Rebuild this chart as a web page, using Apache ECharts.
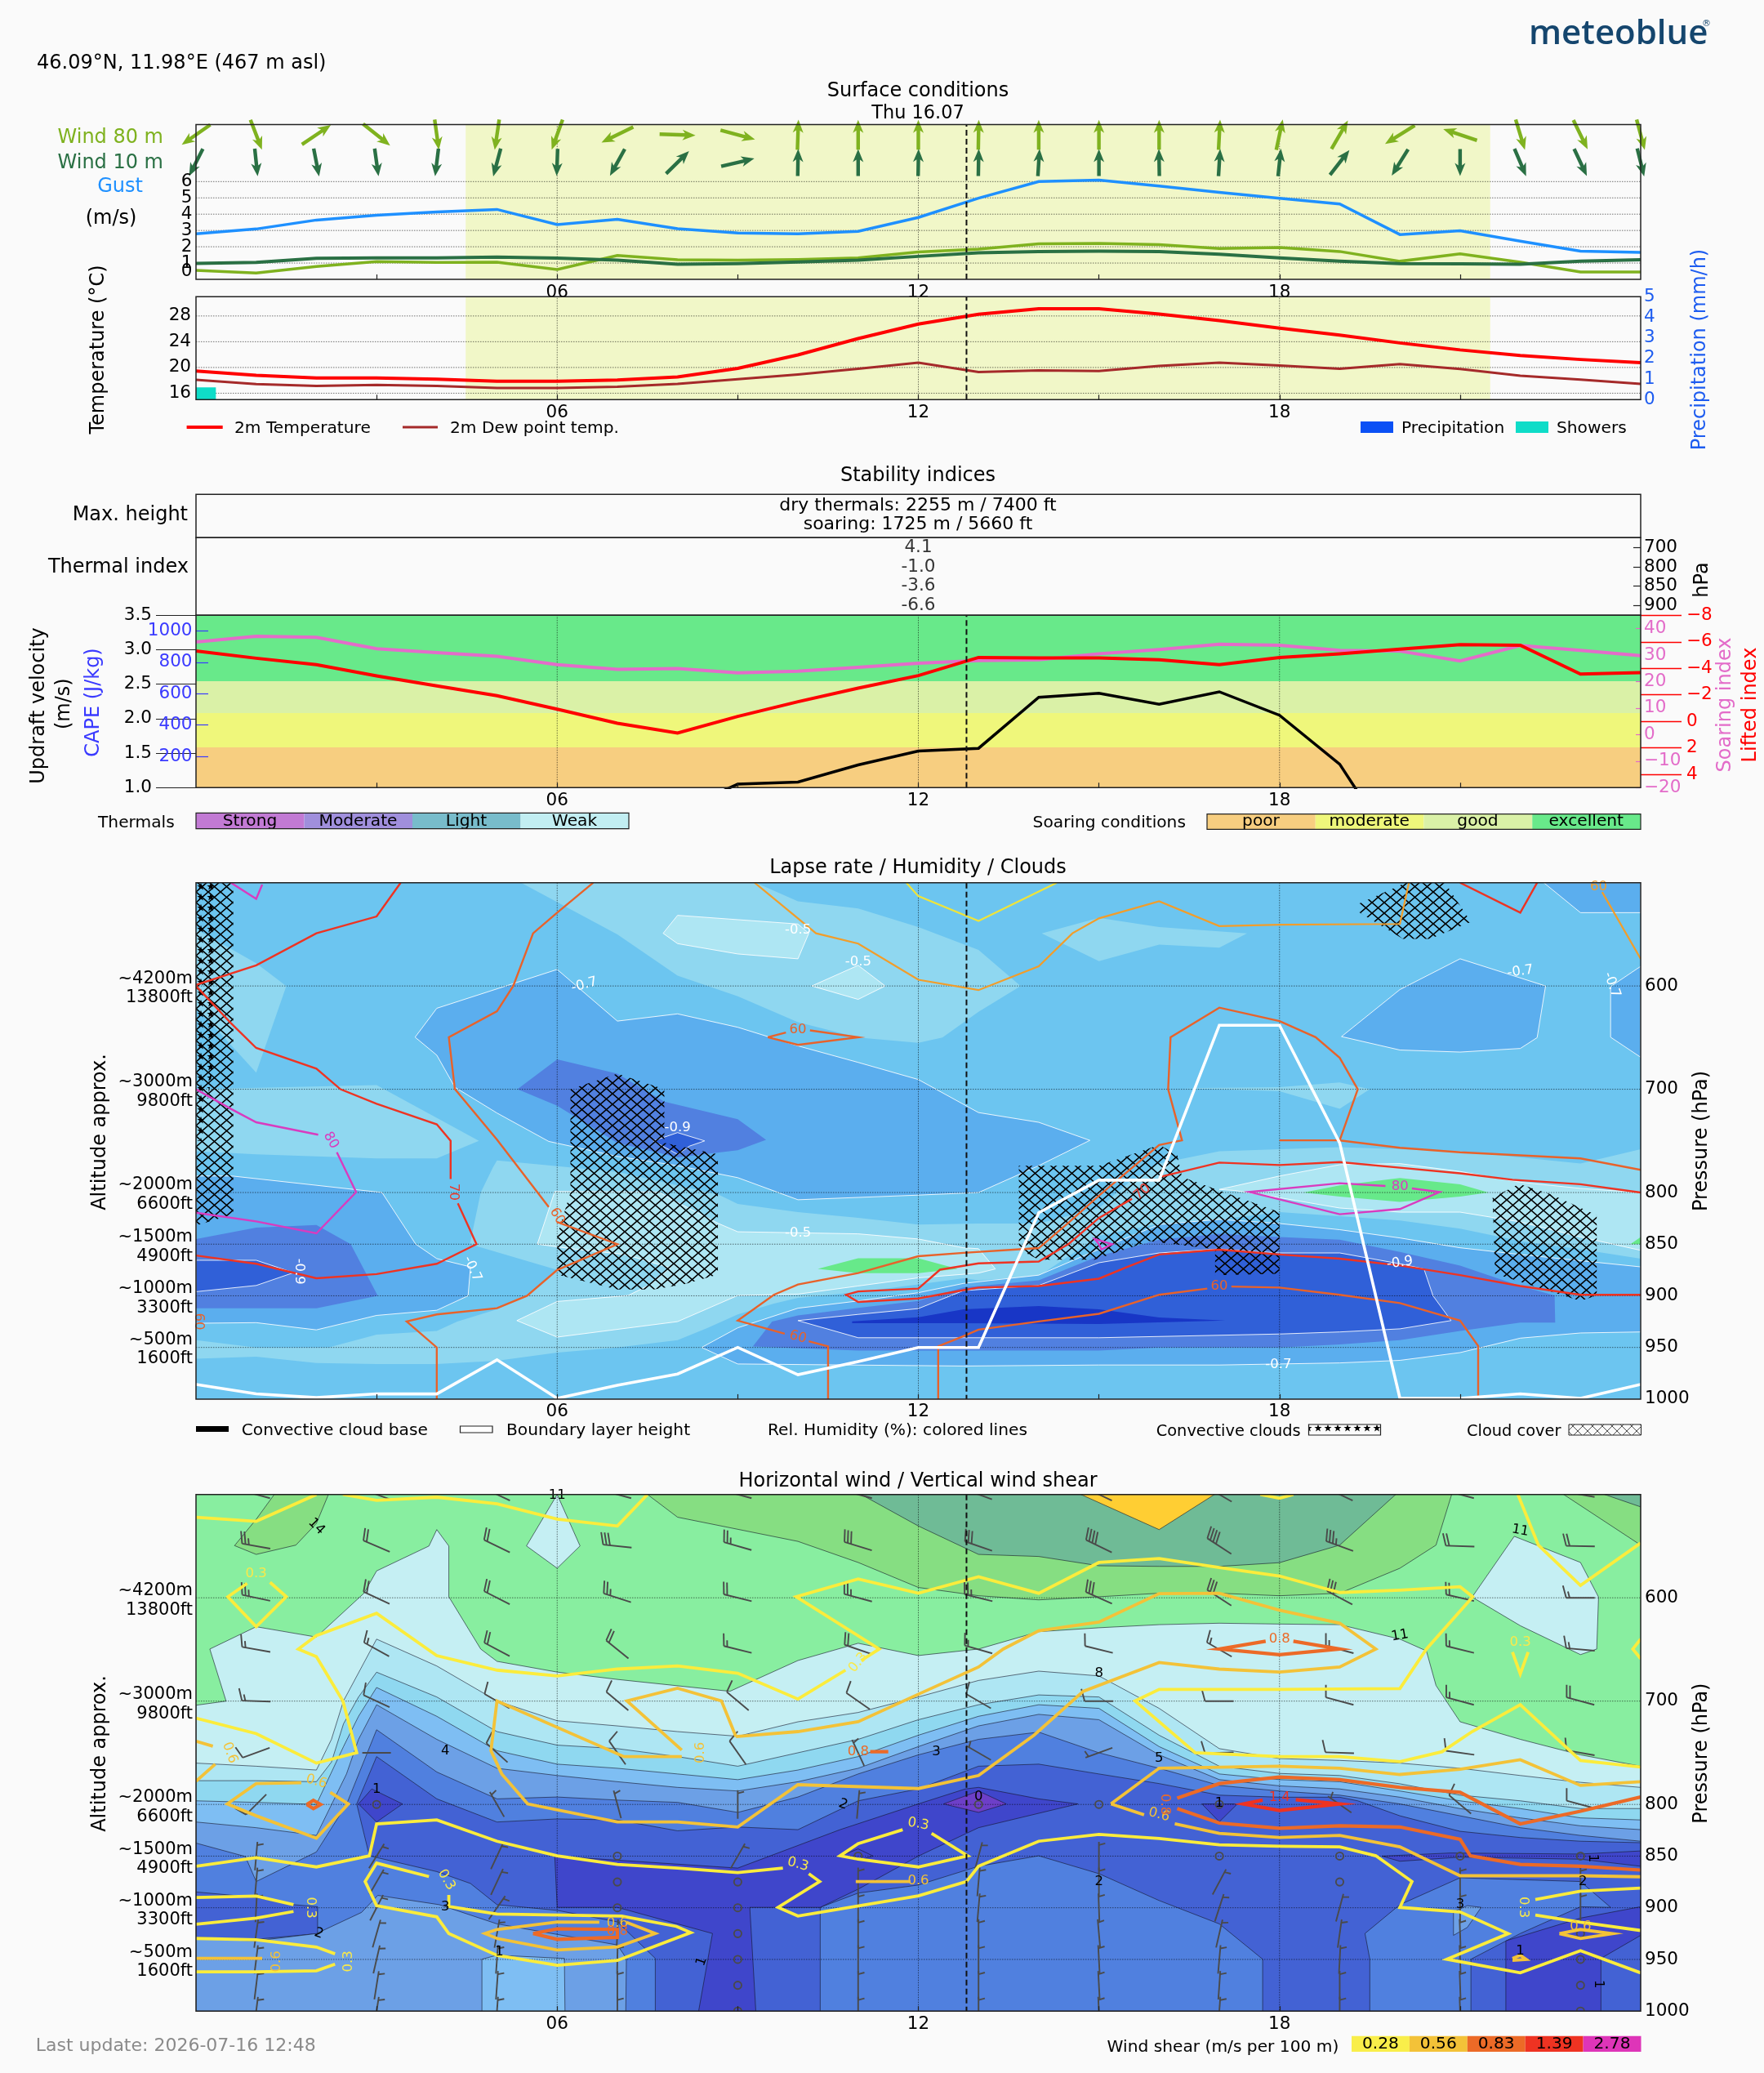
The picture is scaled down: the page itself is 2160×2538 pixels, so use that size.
<!DOCTYPE html>
<html><head><meta charset="utf-8">
<style>html,body{margin:0;padding:0;background:#fafafa}#c{width:2160px;height:2538px}</style>
<script src="https://cdn.jsdelivr.net/npm/echarts@6/dist/echarts.min.js"></script>
</head><body><div id="c"></div>
<script>
// ---------- hourly series ----------
const hours=[0,1,2,3,4,5,6,7,8,9,10,11,12,13,14,15,16,17,18,19,20,21,22,23,24];
const hourLabels=[6,12,18], hourTicks=[3,6,9,12,15,18,21], nowHour=12.8, daylight=[4.48,21.5];
const gust=[2.8,3.09,3.64,3.93,4.14,4.29,3.36,3.68,3.11,2.84,2.79,2.95,3.8,4.98,6.0,6.09,5.73,5.34,4.98,4.63,2.75,2.98,2.34,1.73,1.66];
const wind80=[.55,.39,.79,1.09,1.04,1.05,.6,1.46,1.2,1.18,1.21,1.32,1.68,1.86,2.18,2.2,2.13,1.89,1.95,1.71,1.11,1.57,1.05,.45,.45];
const wind10=[.98,1.04,1.29,1.32,1.32,1.36,1.3,1.18,.93,.96,1.07,1.18,1.41,1.63,1.71,1.73,1.71,1.54,1.32,1.11,.96,.95,.93,1.11,1.2];
const dir80=[235,159,56,128.5,172,188.5,200,244,92,105,2,0,0,1,0,0,0,3,12,30,238,288.5,163,154,165];
const dir10=[207,174,169,172,187,195,182,209,45.5,76.6,1,0,1,1,3.5,0,359,3.5,6,38,212,180,157,155,166];
const temp2m=[19.44,18.77,18.36,18.36,18.18,17.86,17.86,18.05,18.54,19.85,21.96,24.49,26.74,28.27,29.13,29.13,28.3,27.28,26.1,25.03,23.81,22.73,21.87,21.24,20.75];
const dew2m=[18.09,17.41,17.14,17.28,17.14,16.83,16.83,17.0,17.46,18.18,18.9,19.8,20.75,19.3,19.53,19.44,20.25,20.75,20.3,19.8,20.52,19.76,18.72,18.13,17.46];
const showers=[.6,0,0,0,0,0,0,0,0,0,0,0,0,0,0,0,0,0,0,0,0,0,0,0,0];
const windTicks=[1,2,3,4,5,6], windLabelsEven=[2,4,6], windLabelsOdd=[1,3,5], tempTicks=[16,20,24,28], precipTicks=[0,1,2,3,4,5];
const soaring=[34.9,37.1,36.7,32.4,30.9,29.5,26.4,24.6,24.9,23.3,23.9,25.4,26.9,27.9,28.2,30.5,32.1,34.1,33.7,31.8,31.5,27.8,33.6,31.8,29.8];
const lifted=[-5.31,-4.76,-4.27,-3.43,-2.67,-1.93,-.92,.14,.88,-.37,-1.48,-2.5,-3.45,-4.82,-4.78,-4.78,-4.64,-4.27,-4.82,-5.09,-5.44,-5.78,-5.74,-3.57,-3.67];
const updraft=[null,null,null,null,null,null,null,null,.66,1.05,1.08,1.33,1.53,1.57,2.31,2.37,2.21,2.39,2.05,1.34,0,null,null,null,null];
const updraftTicks=[1,1.5,2,2.5,3,3.5], capeTicks=[200,400,600,800,1000], liftedTicks=[-8,-6,-4,-2,0,2,4], soaringTicks=[-20,-10,0,10,20,30,40];
const soaringBands=[[1,1.585,'#F7CE80'],[1.585,2.083,'#EFF77B'],[2.083,2.545,'#DAF1A7'],[2.545,3.5,'#68E98A']];
const thermalLevels=['900','850','800','700'], thermalIndex=[-6.6,-3.6,-1.0,4.1];
const boundaryLayer=[985.8,995,998.6,995,995,962,999.3,986.6,975.7,950,976.4,963.7,950,950,819.5,788,788,638,638,752,999.3,999.3,995,999.3,985.8];
const pressureTicks=[600,700,800,850,900,950,1000];

// ---------- lapse rate regions: [hour, hPa] ----------
const lapseB=[
 [[5.4,500],[9.3,500],[10,518],[11,525],[12,543],[13,565],[13.7,600],[13,625],[12.4,650],[12,655],[11,650],[10,635],[9,610],[8,590],[7,550]],
 [[14.05,549],[15,534],[16,543],[17.46,549],[17,563],[16,560],[15,576]],
 [[0,545],[1,578],[1.5,600],[1,684],[0,620]],
 [[0,700],[3,696],[4.7,750],[4,767],[3,767],[1,763],[0,760]],
 [[16.4,699],[18,698],[19,693.5],[19.5,700],[19,719],[18,702]],
 [[5,769],[7,780],[8.68,802],[9,811],[10,819],[11,824.5],[12,831],[13,830],[14,830],[15,815],[15.5,790],[16,772],[17,760],[19,756],[21,760],[23,772],[24,758],[24,864],[23,855],[22,847],[21,835],[20,827],[19,823],[18,819],[17,826],[16,830],[15,842],[14,881],[13,885],[12.75,883],[12,889],[11,896.5],[10,902],[9.6,907.6],[9,918],[8.5,931],[8,943],[7,950],[6,955],[5,963],[4,966],[3,966],[2,965],[1,959],[0,961],[0,943],[1,950],[2.2,950],[3,937.6],[4,934],[4.34,925],[5,913],[5.5,900],[6,875],[4.55,850],[4.73,800],[4.93,776]]
];
const lapseA=[
 [[5.96,799],[7.69,799.5],[7.88,806],[8.68,830],[9,838],[11,840],[12,845],[12.75,853.5],[13,854.4],[13.28,874],[13,878],[12,882.6],[11,890.5],[10,898.4],[9,899.7],[8,925],[6,940],[5.33,924],[6,905.5],[7.18,899.7],[7.55,889],[7.88,873],[7.13,860],[6.32,855],[5.67,850]],
 [[17,797],[18,784],[19,773],[20,772],[21,779.6],[22,790],[23,796],[24,800],[24,856],[23,843],[22,828.5],[21,819],[20,819],[19,815],[18,805],[17.25,798]],
 [[8,531.6],[7.76,549],[8,559],[9,569],[10,573.7],[10.18,549],[10,540]],
 [[11,580],[11.45,600],[11,613],[10.23,600]]
];
const lapseGreen=[
 [[10.33,874],[11,863.6],[12,863.6],[12.65,874],[12,878],[11,878]],
 [[18.4,800],[19,793],[20,786],[21,792],[21.47,800],[21,804],[20,809],[19,804]],
 [[23.83,850],[24,843],[24,850]]
];
const lapseD=[
 [[4,621.6],[3.64,649.6],[4,667],[4.3,698],[5,723],[5.86,750.5],[7,765],[8,774],[9,785.6],[10,807],[12,802.5],[13,800],[14,774],[14.85,749.5],[14,732],[13,722.6],[12,690.6],[11,674],[10,658],[9,640],[8,627],[7,634],[6,584]],
 [[0,784],[.6,784],[3.09,800],[3.65,850],[4,864],[4.56,872],[4.52,900],[4,914],[3,919],[2,933],[1,926],[0,926.6]],
 [[8.4,950],[9,931],[10,912],[11,905],[12,897],[12.75,888],[14,880],[15,855],[16,831],[17,826],[18,830],[19,836],[20,844],[21,853.5],[22,860],[24,872],[24,935],[23,936],[22,941],[21,955],[20,962.5],[19,965],[18,966],[17,967],[15,967],[12.75,968],[9,966]],
 [[19.03,649],[20,603.5],[21,573.7],[22.42,600],[22.28,650],[22,660.5],[21,664],[20,662]],
 [[22.39,500],[23,529],[24,529],[24,500]],
 [[24,581],[23.5,600.6],[23.5,649.6],[24,669]]
];
const lapseE=[
 [[5.34,700],[6,671],[7,685],[7.78,712],[9,729],[9.47,749],[9,759],[8,766],[7,752],[6,716]],
 [[0,845],[1,834],[2,831.5],[2.57,850],[3.02,900],[2,912],[1,912],[0,912]],
 [[9.25,949],[9.57,925],[10,919],[11,911.6],[12,905],[12.75,892],[14,885],[15,861.5],[16,845.6],[17,840],[18,843],[19,845.6],[20,857.5],[21,870.7],[22,890.5],[22.57,899.7],[22.58,926],[22,926],[21,934],[20,943],[19,947],[18,950],[16,950],[15,953],[12.75,953],[11,953]]
];
const lapseF=[
 [[7.6,750],[8,742],[8.45,750],[8.2,755],[8,763]],
 [[0,865.6],[1,865.6],[1.62,877.6],[1,890],[0,896]],
 [[10,924],[11,918],[12,912.4],[12.75,895],[14,890],[15,868],[16,858.5],[17,854.6],[18,858.5],[19,858.5],[20,869],[20.4,874],[20.55,900],[20.85,924],[20,932],[19,935],[18,937],[15,940.6],[11,940.6]]
];
const lapseG=[[[10.9,924.8],[12,920.8],[12.75,913],[14,910],[15,913],[16,921],[17.1,924],[15,927.4],[12.75,926.6],[10.9,926.6]]];

// ---------- relative humidity contours ----------
const rh50=[[[11.8,500],[12,513],[13,537],[14.3,500]]];
const rh55=[
 [[9.28,500],[10,534.5],[10.3,549],[11,559],[12,594],[13,604],[14,581],[14.56,549],[15,534.5],[16,518],[17,542],[18,540.7],[20,540],[20.15,500]],
 [[23.36,509],[24,573.7]]
];
const rh60=[
 [[6.6,500],[6,529],[5.6,549],[5.27,600],[5,624.5],[4.2,649.6],[4.3,699.7],[5,748.7],[5.86,814]],
 [[6,828.6],[7,850],[6,875],[5.5,900],[5,912],[4,918],[3.5,924.8],[4,950],[4,1000]],
 [[9.5,649.6],[9.8,645]],
 [[10.2,643],[11,649.6],[10,657],[9.5,649.6]],
 [[10.5,1000],[10.5,949],[10.18,944]],
 [[9.78,936.7],[9,924],[9.6,899],[10,889],[11,878],[12,861.7],[12.75,858.4],[14,853.8],[14.5,829],[15,803],[16,754],[16.38,749.5],[16.15,700],[16.19,649.6],[17,621],[18,634],[18.6,649.6],[19,669.6],[19.3,700],[19,749.5],[20,756.7],[21,761],[23,767],[24,778]],
 [[18,749.5],[19,749.5]],
 [[12.33,1000],[12.33,949],[12.75,939],[13,932.7],[14,924.8],[15,917.4],[16,899],[16.8,893]],
 [[17.2,891],[18,892],[19,899],[20,907],[21,924],[21.3,948.5],[21.3,1000]]
];
const rh70=[
 [[3.4,500],[3,532.7],[2,549],[1,580],[0,599]],
 [[0,600],[.58,636],[1,660],[2,680],[2.4,700],[3,714],[4,734],[4.23,750],[4.23,787]],
 [[4.35,810.5],[4.66,850],[4,869],[3,879],[2,883],[1,869],[0,861]],
 [[15.55,806],[15,824.6],[14.5,849.6],[14,866.8],[13,868.6],[12.75,871],[12.36,874.7],[12,893],[11,895.8],[10.8,899],[11,906],[12,902.6],[12.75,894.5],[13,892],[14,890.5],[15,883.4],[15.47,872],[16,860],[17,855.4],[18,860],[19,864],[20,870.7],[21,880],[22,890.5],[23,899],[24,899]],
 [[16,785],[17,771],[18,773.4],[19,770.5],[20,776],[21,781.4],[21.87,787.6],[23,792],[24,800]],
 [[21,500],[22,529],[22.28,500]]
];
const rh80=[
 [[.58,500],[1,515.6],[1.1,501.8]],
 [[0,700],[.58,719],[1,732],[2.03,744]],
 [[2.34,761],[2.66,799.6],[2,839.5],[1,828],[0,819.5]],
 [[19.76,793.7],[19,791],[17.5,799.5],[19,821],[20,816],[20.66,799.5],[20.2,796]],
 [[15,850],[14.93,845],[15.22,850],[15.04,855],[15,850]]
];
const cloudCover=[
 [[0,500],[.62,500],[.62,821],[0,832]],
 [[7,685],[7.78,700],[7.78,752],[8.67,763],[8.67,879.5],[8.1,889],[7.6,894],[7,894],[6,879.5],[6,842],[6.22,800],[6.22,700]],
 [[19.33,520],[20.1,500],[20.75,500],[21.18,538],[20.5,554.5],[20.05,554.5],[19.33,529]],
 [[13.67,774],[15,774],[16,754],[16.3,763],[16.38,785],[17,798],[18,819],[18,878.6],[16.93,880],[16.93,855],[15.84,847],[14.93,865],[14,865],[13.67,855]],
 [[21.54,805],[21.98,791.6],[22.52,802],[23.27,822],[23.27,899.7],[23,905],[21.58,878.6]]
];
const convectiveClouds=[[[0,500],[.35,500],[.35,650],[.1,750],[0,750]]];
const lapseLabels=[[10,546,'-0.5',0],[11,577,'-0.5',0],[10,839.5,'-0.5',0],[6.45,599,'-0.7',15],[8,737,'-0.9',0],[1.72,876.5,'-0.9',-90],[4.59,874,'-0.7',-65],[22,586,'-0.7',8],[23.52,599,'-0.7',-70],[17.98,966.6,'-0.7',0],[20,868,'-0.9',8]];
const rhLabels=[[6,823,'60',-60,'#E8622A'],[10,642,'60',0,'#E8622A'],[10,940,'60',-15,'#E8622A'],[17,891,'60',0,'#E8622A'],[.05,925,'60',-90,'#E8622A'],[4.28,799.6,'70',-90,'#E9382A'],[15.72,799.5,'70',40,'#E9382A'],[2.24,749.5,'80',-60,'#D93BBF'],[20,794,'80',0,'#D93BBF'],[23.3,504,'60',0,'#F29D2A']];

// ---------- horizontal wind regions ----------
const speedAbove14=[
 [[1.3,500],[2.2,500],[2,528],[1.66,549],[1,558],[.64,549.5],[1,524]],
 [[7.5,500],[8,522],[10,545.4],[11,565.8],[12,590],[13,598],[14,602],[15,599],[16,595.6],[17,595.6],[18,598],[19,595.6],[20,571.4],[20.6,549],[20.86,500]],
 [[22.72,500],[24,549],[24,500]]
];
const speedAbove17=[
 [[11.05,500],[12,530.5],[13,558],[14,560],[15,569],[16,569.6],[17,569.6],[18,566],[19,549],[19.93,500]],
 [[23.4,500],[24,512],[24,500]]
];
const speedAbove20=[[[14.7,500],[16,534],[16.92,500]]];
const speedBelow11=[
 [[6,500],[6.38,549.8],[6,571.4],[5.49,549.8]],
 [[21.9,540.5],[23,565.8],[23.3,599.3],[23.27,649.6],[23,655],[22,627],[21.2,599.3]],
 [[0,704],[.5,700],[.23,649.6],[1,628],[2,638],[2.79,595.6],[3,574],[3.87,549.9],[4,534],[4.2,549.9],[4.2,599],[4.73,649.6],[5,661.5],[6,671.9],[7,679],[8.87,690.5],[10,660.7],[11,644],[12,655.9],[13,649.6],[14,632.8],[15,629],[16,626],[17,624.6],[18,625.4],[19,626],[20,640],[20.44,651.4],[20.6,684.9],[21,720],[22,737],[23,752],[24,763],[24,1000],[0,1000]]
];
const contour8=[[0,760],[1,763],[2,766.7],[2.25,737],[2.45,699.8],[3,640],[4,666],[5,699.8],[6,719],[7,724],[8,729.5],[9,734],[10,720],[11,711],[12,696],[13,680],[14,671],[15,675.6],[16,707],[17,746],[18,755.6],[19,757.4],[20,760],[21,765],[22,772],[23,778.6],[24,783.5]];
const contour6=[[0,777],[1,777],[2,778],[2.25,759],[2.45,722],[2.7,696],[3,672],[4,696],[5,729.5],[6,742.6],[7,746],[8,753.7],[9,763],[10,750],[11,737],[12,718],[13,703.5],[14,694],[15,696],[16,733],[17,763],[18,770],[19,772],[20,780],[21,791],[22,796.5],[23,804],[24,804]];
const contour5=[[0,796.5],[1,798],[2,800],[2.45,744],[2.7,714.7],[3,686.8],[4,714.7],[5,748],[6,761],[7,765],[8,770.5],[9,776],[10,766.7],[11,753.7],[12,733],[13,714.7],[14,703.5],[15,707],[16,744],[17,770.5],[18,776],[19,778],[20,787],[21,796.5],[22,804],[23,813],[24,815]];
const contour4=[[0,817],[1,822.5],[2,830],[2.5,770.5],[2.7,737],[3,703.5],[4,737],[5,765],[6,772],[7,778],[8,783.5],[9,787],[10,778],[11,765],[12,744],[13,724],[14,712.8],[15,718],[16,752],[17,776],[18,782],[19,785],[20,793],[21,804],[22,813],[23,820.7],[24,824.4]];
const contour3=[[0,837.4],[.82,850.4],[1,874.6],[2,846],[2.5,800],[3,727.7],[4,768.6],[5,794.6],[6,792.8],[7,795.8],[8,798],[9,807.7],[10,792.8],[11,770.5],[12,752],[13,737],[14,730],[15,750],[16,765],[17,781.6],[18,787],[19,791],[20,799.5],[21,811],[22,822.5],[23,830],[24,835.6]];
const speedBelow2=[
 [[2.67,799.5],[3,753.7],[4,794.6],[5,817],[6,814],[7,815],[8,825.5],[9,821.8],[10,824.4],[11,796.5],[12,785],[13,763],[14,761],[15,770.5],[16,779.8],[17,791],[18,793],[19,793],[19.3,796.5],[20,811],[21,826],[22,832],[23,835.6],[24,837],[24,1000],[7.63,1000],[7.63,949],[7,913.7],[6,902.5],[5,897],[4.56,876.5],[4,865],[2.88,849.7]],
 [[0,884.7],[1,890],[1.62,897],[2.02,899],[2.02,925],[1,930.5],[0,928.6]]
];
const speedBelow3Patches=[
 [[10.37,1000],[10.37,899.6],[11,885.8],[12,878],[13,859.8],[14,849.7],[15,867],[16,893],[17,915.6],[17.72,949.8],[17.72,1000]],
 [[19.5,1000],[19.5,949.8],[19.42,924.9],[20,897],[21,871],[23,874.6],[23.5,899.6],[23,899],[22,924.9],[21.18,949.8],[21.18,1000]]
];
const speedBelow4Patches=[
 [[0,930],[1,932],[2,925],[2.75,904.5],[3.02,888],[4.04,897],[5,915.6],[7,936],[7.15,949],[7.14,1000],[0,1000]],
 [[20.89,904],[21.12,898],[21.35,899.6],[21.12,919],[20.89,926.7]]
];
const speedBelow5Patches=[[[4.75,1000],[4.75,949.8],[5,945.9],[6.12,949],[6.13,1000]]];
const speedBelow1=[
 [[5.96,850],[9,861.6],[10.7,824.4],[12,799.5],[12.78,785],[13,783.5],[14,794.6],[14.65,799.5],[13,822.5],[12,850],[11,882],[10.37,899.6],[9.2,899.6],[9.3,1000],[8.35,1000],[8.58,924.9],[7,899.6],[6,899.6]],
 [[2.92,785],[3.43,799.5],[3,817],[2.7,799.5]],
 [[21.76,1000],[21.76,932],[23,910],[24,899],[24,926.7],[23.34,949],[23.34,1000]],
 [[19.7,850],[20.84,847],[23,848],[24,845],[24,859.8],[23,853],[21,851],[20,855]],
 [[16.71,799.5],[17.3,799.5],[17,816.8]],
 [[10.7,850],[11,843],[11.25,850],[11,854]]
];
const speedBelow0=[[[12.42,799.5],[13,787],[13.46,799.5],[13,807.7]]];
const windSpeedLabels=[[2,531,'14',-45],[6,501,'11',0],[4.14,748,'4',0],[12.3,749,'3',0],[10.75,800,'2',-20],[3,785,'1',0],[13,792.8,'0',0],[4.14,899,'3',0],[2.04,925,'2',-20],[8.4,952,'1',70],[5.04,943,'1',0],[22,535,'11',-10],[20,636.6,'11',10],[15,673,'8',0],[16,755,'5',0],[17,799,'1',0],[15,874.6,'2',0],[21,897,'3',0],[23.04,874.6,'2',0],[22,941.6,'1',0],[23.3,974,'1',-90],[23.2,852,'1',-90]];

// ---------- wind shear contours ----------
const shear028=[
 [[0,522],[1,526],[2,500]],
 [[2.44,500],[3,505.6],[4,502.6],[5,509],[6,523.8],[7,530.5],[7.5,500]],
 [[1.23,585],[1.5,599],[1,628],[.53,599],[.85,586]],
 [[0,716.5],[1,731.4],[2,760],[2.67,750],[2.44,699.8],[2,657],[1.7,649.6],[2,636.5],[3,615],[4,656],[5,670],[6,675.6],[7,669],[8,666],[9,673],[10,698],[10.79,670]],
 [[11.05,660.7],[11.35,649.6],[9.97,599],[11,581.8],[12,595.6],[13,579.6],[14,595.6],[15,565.8],[16,562],[17,570.7],[18,578.9],[19,594.9],[20,592.6],[21,589.3],[21.21,599],[20.44,649.6],[20,687.9],[18,688.6],[16,688.6],[15.6,699.8],[16.6,750],[18,753.7],[19,753.7],[20,758.6],[20.7,749],[21.2,729.5],[22,703.5],[23,757.4],[24,763.8]],
 [[21.96,500],[22.3,549],[23,588],[24,547]],
 [[24,640],[23.87,649.6],[24,659]],
 [[21.87,652.5],[22,673.7],[22.13,652.5]],
 [[17.68,500],[18,503.7],[18.23,500]],
 [[0,859.8],[1,851.6],[2,860.5],[2.88,849.7],[3,818.8],[4,815],[5,835.6],[6,849.7],[7,858],[8,861.6],[9,866],[9.75,861.6]],
 [[10.18,867],[10.36,874.6],[9.67,899.6],[10,908],[12,888.4],[12.8,874.6],[13,859.8],[14,835.6],[15,829],[16,833],[17,839],[18,840.4],[19,841],[19.6,849.7],[20.2,874.6],[20,899.6],[21,904],[21.8,925],[20.78,949.8],[22,963],[23,941.6],[24,963]],
 [[11.74,824.4],[11,838],[10.7,849.7],[11,853],[12,860.5],[12.82,849.7],[12.22,828]],
 [[0,890],[1,888.7],[1.62,897]],
 [[1.62,903.6],[1,910],[0,916]],
 [[0,929.7],[1,931],[2,938],[2.31,944.6]],
 [[2.31,954.6],[2,961],[1,962],[0,962]],
 [[3.87,869.8],[3,856.8],[2.81,874.6],[3,898],[4,908.8],[4.2,925],[5,946],[6,955.7],[7,951],[8.22,924],[7.98,918],[7.07,908],[5,906],[4.2,898.8],[4.2,887.6]],
 [[22.25,892],[23,884],[24,881]],
 [[22.25,907],[23,914],[24,922]]
];
const shear056=[
 [[0,738.8],[.28,743.6]],
 [[.32,761],[0,777.6]],
 [[1.75,779],[1,779.8],[.52,799.5],[1,811],[2,832.6],[2.53,799.5],[2.23,788.3]],
 [[8.97,734.4],[10,729.5],[11,720],[11.9,696],[13,667],[13.41,649.6],[14,632],[15,623.5],[16,596],[17,595.6],[18,612],[19,624.6],[19.6,649.6],[19,667],[18,671.9],[17,669],[16,662.6],[14.74,690.5],[13.92,733],[13,772],[12,784.6],[10,780.9],[9,821.8],[8,817],[7,817],[5.51,799.5],[5.08,770.5],[4.9,748],[5,699.8],[7.11,753.7],[8.07,753.7]],
 [[8.07,747.4],[7.16,699.8],[8,687.5],[8.73,699.8],[8.97,734.4]],
 [[15.2,799.5],[16,764.9],[18,763],[19,764.9],[20,771],[21,766],[22,756.7],[23,781.6],[24,778]],
 [[15.2,799.5],[15.75,810]],
 [[16.26,818.8],[17,828],[18,832],[19,830],[20,841],[21,869],[22,869],[23,869],[24,870]],
 [[10.96,874.6],[11.87,874.6]],
 [[0,949],[1.1,949]],
 [[6.7,914],[6,913.7],[5,921],[4.8,924.9],[5,929.7],[6,940.8],[7,937.9],[7.63,924.9],[7.15,914]],
 [[22.65,925],[23,929.7],[23.53,925],[23,921],[22.65,925]],
 [[21.87,949],[22,946],[22.1,950],[21.87,951]]
];
const shear083=[
 [[5.6,924.9],[6,920.4],[7,921],[7,928.6],[6,930.5],[5.6,924.9]],
 [[11.2,749],[11.5,749]],
 [[17.77,642],[17,649.6],[18,655],[19,649.6],[18.23,642]],
 [[16.3,793.9],[17,779.8],[18,773.4],[19,776],[20,783.5],[21,788.3],[22,818.8],[23,806.6],[24,792.8]],
 [[16.3,804],[17,818],[18,823],[19,820.7],[20,821.8],[21,833.7],[21.17,849.7],[22,858],[23,859.8],[24,863.5]],
 [[1.84,800],[1.95,796],[2.07,800],[1.95,804],[1.84,800]]
];
const shear139=[[[17.72,795.8],[17.4,799.5],[18,805.8],[19,799.5],[18.27,795.4]]];
const shearLabels=[[1,577,'0.3',0,'#F9E94A'],[11,662.6,'0.3',50,'#F9E94A'],[10,858,'0.3',-15,'#F9E94A'],[4.16,873,'0.3',-60,'#F9E94A'],[1.9,900,'0.3',-90,'#F9E94A'],[2.53,952,'0.3',90,'#F9E94A'],[12,819,'0.3',-10,'#F9E94A'],[22,643,'0.3',0,'#F9E94A'],[22.05,899.6,'0.3',-90,'#F9E94A'],
 [.56,750,'0.6',-70,'#F3C238'],[2,778,'0.6',-15,'#F3C238'],[8.38,750,'0.6',90,'#F3C238'],[12,874,'0.6',0,'#F3C238'],[1.34,952,'0.6',90,'#F3C238'],[7,915,'0.6',0,'#F3C238'],[16,810,'0.6',-15,'#F3C238'],[23,918.5,'0.6',0,'#F3C238'],
 [11,749,'0.8',0,'#EC6A27'],[18,640,'0.8',0,'#EC6A27'],[16.09,800,'0.8',-90,'#EC6A27'],[7,923,'0.8',0,'#EC6A27'],[18,793,'1.4',0,'#EE3322']];

// ---------- wind barbs: direction (deg) and number of full barbs (0 = calm) ----------
const barbHours=[1,3,5,7,9,11,13,15,17,19,21,23];
const barbLevels=[500,550,600,650,700,750,800,850,875,900,925,950,975,1000];
const barbDirection=[
 [285,290,295,285,285,285,290,295,300,295,285,280],
 [280,293,296,276,286,287,289,296,303,290,272,271],
 [282,295,297,288,284,285,284,294,303,298,283,270],
 [280,299,298,309,284,289,286,284,300,285,284,275],
 [272,295,300,310,310,305,300,270,270,285,285,285],
 [250,270,312,325,325,335,300,250,268,272,278,280],
 [225,0,330,345,0,5,0,0,0,305,310,285],
 [5,32,25,0,30,0,15,0,0,0,0,0],
 [5,30,25,0,0,0,5,0,28,0,0,0],
 [3,27,35,0,0,0,5,358,18,15,0,0],
 [8,16,10,3,0,0,0,355,13,8,358,0],
 [7,13,4,1,0,0,0,357,5,3,358,0],
 [7,9,4,0,0,0,0,357,4,0,358,0],
 [7,9,4,0,0,0,0,357,4,0,358,0]
];
const barbSpeed=[
 [3,3,3,3,3,3,4,4,4,4,3,3],
 [2.5,2,2,3,2.5,3,3,4,4,3.5,2,2],
 [2.5,2,2,2.5,2,2.5,2.5,3,3,3,2,1.5],
 [1.5,1.5,2,2,1.5,2,1.5,1,1.5,1.5,1.5,1.5],
 [1.5,1,1,1,1,1,1,1,1,1,1.5,2],
 [1,.1,1,1,1,.5,.5,.5,1,1,1,1],
 [1,0,.5,.5,.5,.5,0,0,0,.5,1,1],
 [.5,.5,.5,0,.5,0,.5,.5,0,0,0,0],
 [.5,.5,.5,0,0,.5,.5,.5,.5,0,.5,.5],
 [.5,.5,.5,0,0,.5,.5,.5,.5,.5,.5,.5],
 [.5,.5,.5,.5,0,.5,.5,.5,.5,.5,.5,0],
 [.5,.5,.5,.5,0,.5,.5,.5,.5,.5,.5,0],
 [.5,.5,.5,.5,0,.5,.5,.5,.5,.5,.5,0],
 [.5,.5,.5,.5,0,.5,.5,.5,.5,.5,.5,0]
];

// ---------- layout ----------
const FONT='"DejaVu Sans"';
const TICK=21.5, BIG=24, SMALL=20.2, CONTOUR=16.5;
const L=240,W=1769,R=2009;
const panels=[[152.5,342],[363.2,489.3],[658.3,753.3],[753.3,964.3],[1080.7,1712.9],[1829.7,2462.2]];
const C={wind80:'#7FB21F',wind10:'#2A7044',gust:'#1E90FF',precip:'#1D5CF0',cape:'#3A3AFF',soar:'#E36CC9',red:'#FF0000',dew:'#A52A2A',teal:'#0FDCC8'};

function crossHatch(){const c=document.createElement('canvas');c.width=15;c.height=13;const g=c.getContext('2d');g.strokeStyle='#000';g.lineWidth=1.6;g.beginPath();g.moveTo(0,0);g.lineTo(15,13);g.moveTo(15,0);g.lineTo(0,13);g.stroke();return {image:c,repeat:'repeat'};}
function legendHatch(){const c=document.createElement('canvas');c.width=12;c.height=12;const g=c.getContext('2d');g.strokeStyle='#222';g.lineWidth=.8;g.beginPath();g.moveTo(0,0);g.lineTo(12,12);g.moveTo(12,0);g.lineTo(0,12);g.stroke();return {image:c,repeat:'repeat'};}
function starPat(){const c=document.createElement('canvas');c.width=12;c.height=13;const g=c.getContext('2d');g.fillStyle='#000';g.beginPath();for(let i=0;i<10;i++){const r=i%2?2:4.8,a=-Math.PI/2+i*Math.PI/5;g.lineTo(6+r*Math.cos(a),6.5+r*Math.sin(a));}g.closePath();g.fill();return {image:c,repeat:'repeat'};}
const hatch=crossHatch(),legHatch=legendHatch(),stars=starPat();

const series=[];
const ax=(g,y)=>({xAxisIndex:g,yAxisIndex:y,coordinateSystem:'cartesian2d'});
function polys(name,g,y,list,fill,stroke,lw,z){
 series.push({name,type:'custom',...ax(g,y),clip:true,silent:true,z,data:list.map((_,i)=>[i]),
  renderItem(p,api){return {type:'polygon',shape:{points:list[p.dataIndex].map(q=>api.coord(q))},style:{fill,stroke:stroke||null,lineWidth:lw||0}};}});
}
function lines(name,g,y,list,stroke,lw,z,dash){
 series.push({name,type:'custom',...ax(g,y),clip:true,silent:true,z,data:list.map((_,i)=>[i]),
  renderItem(p,api){return {type:'polyline',shape:{points:list[p.dataIndex].map(q=>api.coord(q))},style:{fill:null,stroke,lineWidth:lw,lineDash:dash||null,lineJoin:'miter'}};}});
}
function texts(name,g,y,list,defColor,size,z){
 series.push({name,type:'custom',...ax(g,y),clip:false,silent:true,z,data:list.map((_,i)=>[i]),
  renderItem(p,api){const q=list[p.dataIndex],c=api.coord([q[0],q[1]]);
   return {type:'text',x:c[0],y:c[1],rotation:(q[3]||0)*Math.PI/180,style:{text:q[2],fill:q[4]||defColor,font:size+'px '+FONT,align:'center',verticalAlign:'middle'}};}});
}
function lineS(name,g,y,vals,color,w,z){
 series.push({name,type:'line',xAxisIndex:g,yAxisIndex:y,data:hours.map((h,i)=>[h,vals[i]]),showSymbol:false,connectNulls:false,clip:true,silent:true,z,lineStyle:{color,width:w,join:'miter'},itemStyle:{color}});
}
function guides(g,y,xs,ysv,top,bot,z){
 const segs=[...xs.map(v=>[[v,top],[v,bot]]),...ysv.map(v=>[[0,v],[24,v]])];
 lines('guides'+g,g,y,segs,'rgba(0,0,0,.55)',1,z,[1.5,1.5]);
}
function nowLine(g,y,top,bot,z){lines('now'+g,g,y,[[[nowHour,top],[nowHour,bot]]],'#111',2,z,[7,4]);}
function arrows(name,dirs,yv,color,base,extra){
 series.push({name,type:'custom',...ax(0,0),clip:false,silent:true,z:6,data:dirs.map((_,i)=>[i]),
  renderItem(p,api){
   const i=p.dataIndex,t=dirs[i]*Math.PI/180,c=api.coord([hours[i],yv]),ln=base+extra*Math.abs(Math.sin(t)),ux=Math.sin(t),uy=-Math.cos(t),nx=-uy,ny=ux;
   const P=(a,b)=>[c[0]+ux*a+nx*b,c[1]+uy*a+ny*b],e=ln/2;
   return {type:'polygon',shape:{points:[P(-e,-2.2),P(e-13,-2.2),P(e-16,-6.5),P(e,0),P(e-16,6.5),P(e-13,2.2),P(-e,2.2)]},style:{fill:color}};
  }});
}

// ---------- panel 0: wind ----------
polys('daylight0',0,0,[[[daylight[0],0],[daylight[1],0],[daylight[1],9.5],[daylight[0],9.5]]],'#F1F7C8',null,0,1);
guides(0,0,hourLabels,windTicks,0,9.5,2);
lineS('Gust',0,0,gust,C.gust,3.5,4);
lineS('Wind 80 m',0,0,wind80,C.wind80,3.5,4);
lineS('Wind 10 m',0,0,wind10,C.wind10,4,4);
nowLine(0,0,0,9.5,5);
arrows('Wind 80 m direction',dir80,8.875,C.wind80,36.5,7.5);
arrows('Wind 10 m direction',dir10,7.175,C.wind10,33,9);

// ---------- panel 1: temperature ----------
polys('daylight1',1,1,[[[daylight[0],15],[daylight[1],15],[daylight[1],31],[daylight[0],31]]],'#F1F7C8',null,0,1);
guides(1,1,hourLabels,tempTicks,15,31,2);
series.push({name:'Showers',type:'custom',...ax(1,2),clip:true,silent:true,z:3,data:showers.map((v,i)=>[i]),
 renderItem(p,api){const v=showers[p.dataIndex];if(!v)return null;const h=hours[p.dataIndex],a=api.coord([h-.33,v]),b=api.coord([h+.33,0]);return {type:'rect',shape:{x:a[0],y:a[1],width:b[0]-a[0],height:b[1]-a[1]},style:{fill:C.teal}};}});
lineS('2m Temperature',1,1,temp2m,C.red,4,4);
lineS('2m Dew point temp.',1,1,dew2m,C.dew,3,4);
nowLine(1,1,15,31,5);

// ---------- thermal index ----------
series.push({name:'Thermal index',type:'scatter',xAxisIndex:2,yAxisIndex:3,symbolSize:1,itemStyle:{color:'transparent'},silent:true,
 data:thermalLevels.map((l,i)=>[12,l,thermalIndex[i]]),
 label:{show:true,position:'inside',formatter:p=>p.value[2].toFixed(1),color:'#000',fontFamily:'DejaVu Sans',fontSize:TICK}});

// ---------- panel 3: stability ----------
soaringBands.forEach((b,i)=>polys('band'+i,3,4,[[[0,b[0]],[24,b[0]],[24,b[1]],[0,b[1]]]],b[2],null,0,1));
guides(3,4,hourLabels,[],1,3.5,2);
lineS('Soaring index',3,7,soaring,C.soar,4,4);
lineS('Lifted index',3,6,lifted,C.red,4,4);
lineS('Updraft velocity',3,4,updraft,'#000',3.5,4);
nowLine(3,4,1,3.5,5);

// ---------- panel 4: lapse rate ----------
const G4=4,Y4=8;
polys('lapse base',G4,Y4,[[[0,500],[24,500],[24,1000],[0,1000]]],'#6CC5F0',null,0,1);
polys('lapse B',G4,Y4,lapseB,'#8FD7F0',null,0,2);
polys('lapse A',G4,Y4,lapseA,'#AEE6F3','rgba(255,255,255,.85)',1,3);
polys('lapse green',G4,Y4,lapseGreen,'#67E98A',null,0,4);
polys('lapse D',G4,Y4,lapseD,'#5BAEEE','rgba(255,255,255,.85)',1,3);
polys('lapse E',G4,Y4,lapseE,'#5180E0',null,0,4);
polys('lapse F',G4,Y4,lapseF,'#3060D8','rgba(255,255,255,.85)',1,5);
polys('lapse G',G4,Y4,lapseG,'#1836C6',null,0,6);
polys('cloud cover',G4,Y4,cloudCover,hatch,null,0,7);
polys('convective clouds',G4,Y4,convectiveClouds,stars,null,0,7);
guides(G4,Y4,hourLabels,[600,700,800,850,900,950],500,1000,8);
lines('RH 50',G4,Y4,rh50,'#EFE43A',2.2,9);
lines('RH 55',G4,Y4,rh55,'#F29D2A',2.2,9);
lines('RH 60',G4,Y4,rh60,'#E8622A',2.4,9);
lines('RH 70',G4,Y4,rh70,'#EE3322',2.4,9);
lines('RH 80',G4,Y4,rh80,'#D93BBF',2.4,9);
lines('Boundary layer',G4,Y4,[hours.map((h,i)=>[h,boundaryLayer[i]])],'#fff',3.6,10);
nowLine(G4,Y4,500,1000,11);
texts('lapse labels',G4,Y4,lapseLabels,'#fff',CONTOUR,12);
texts('rh labels',G4,Y4,rhLabels,'#E8622A',CONTOUR,12);

// ---------- panel 5: wind ----------
const G5=5,Y5=9,edge='rgba(20,20,40,.75)';
const below=c=>[[...c,[24,1000],[0,1000]]];
polys('wind base',G5,Y5,[[[0,500],[24,500],[24,1000],[0,1000]]],'#88EEA0',null,0,1);
polys('wind >14',G5,Y5,speedAbove14,'#86DE82',edge,.8,2);
polys('wind >17',G5,Y5,speedAbove17,'#6FBB96',edge,.8,3);
polys('wind >20',G5,Y5,speedAbove20,'#FFCE33',edge,.8,4);
polys('wind <11',G5,Y5,speedBelow11,'#C5EFF3',edge,.8,4);
polys('wind <8',G5,Y5,below(contour8),'#AEE6F3',edge,.8,5);
polys('wind <6',G5,Y5,below(contour6),'#8FD8F0',edge,.8,5.1);
polys('wind <5',G5,Y5,below(contour5),'#7EBEF3',edge,.8,5.2);
polys('wind <4',G5,Y5,below(contour4),'#6CA0E6',edge,.8,5.3);
polys('wind <3',G5,Y5,below(contour3),'#5080DF',edge,.8,5.4);
polys('wind <2',G5,Y5,speedBelow2,'#4362D4',edge,.8,5.5);
polys('wind <3 patches',G5,Y5,speedBelow3Patches,'#5080DF',edge,.8,5.6);
polys('wind <4 patches',G5,Y5,speedBelow4Patches,'#6CA0E6',edge,.8,5.7);
polys('wind <5 patches',G5,Y5,speedBelow5Patches,'#7EBEF3',edge,.8,5.8);
polys('wind <1',G5,Y5,speedBelow1,'#3F46CB',edge,.8,5.9);
polys('wind <0',G5,Y5,speedBelow0,'#6D3FC8',edge,.8,6);
guides(G5,Y5,hourLabels,[600,700,800,850,900,950],500,1000,7);
series.push({name:'Wind barbs',type:'custom',...ax(G5,Y5),clip:true,silent:true,z:8,
 data:barbLevels.flatMap((l,r)=>barbHours.map((h,c)=>[r,c])),
 renderItem(p,api){
  const k=p.dataIndex,r=Math.floor(k/barbHours.length),cl=k%barbHours.length;
  const pt=api.coord([barbHours[cl],barbLevels[r]]),sp=barbSpeed[r][cl],st={stroke:'#4A4A4A',lineWidth:1.9,fill:null};
  if(sp===0)return {type:'circle',shape:{cx:pt[0],cy:pt[1],r:4.6},style:st};
  const t=barbDirection[r][cl]*Math.PI/180,ux=Math.sin(t),uy=-Math.cos(t),tt=t+75*Math.PI/180,vx=Math.sin(tt),vy=-Math.cos(tt);
  const ch=[{type:'line',shape:{x1:pt[0]-ux*17.5,y1:pt[1]-uy*17.5,x2:pt[0]+ux*17.5,y2:pt[1]+uy*17.5},style:st}];
  let left=sp,off=17.5;
  if(sp<1&&sp>.2)off=13.5;
  while(left>.2){const len=left>=1?15.5:8,bx=pt[0]+ux*off,by=pt[1]+uy*off;
   ch.push({type:'line',shape:{x1:bx,y1:by,x2:bx+vx*len,y2:by+vy*len},style:st});left-=left>=1?1:.5;off-=4.2;}
  return {type:'group',children:ch};
 }});
lines('shear 0.28',G5,Y5,shear028,'#FBEC3C',3.8,9);
lines('shear 0.56',G5,Y5,shear056,'#F3C238',3.8,9.1);
lines('shear 0.83',G5,Y5,shear083,'#EC6A27',4.2,9.2);
lines('shear 1.39',G5,Y5,shear139,'#EE3322',4.2,9.3);
nowLine(G5,Y5,500,1000,10);
texts('wind labels',G5,Y5,windSpeedLabels,'#000',CONTOUR,11);
texts('shear labels',G5,Y5,shearLabels,'#F9E94A',CONTOUR,11);

// ---------- axes ----------
const pad=v=>String(v).padStart(2,'0');
const minusFmt=v=>v<0?'\u2212'+Math.abs(v):String(v);
const xAxes=panels.map((p,i)=>({gridIndex:i,type:'value',min:0,max:24,show:i!==2,z:30,
 axisLine:{show:false,onZero:false},splitLine:{show:false},
 axisTick:{show:true,inside:true,length:6,lineStyle:{color:'#222',width:1.2},customValues:hourTicks},
 axisLabel:{margin:5,color:'#000',fontFamily:'DejaVu Sans',fontSize:TICK,customValues:hourLabels,formatter:pad}}));
const lab=(color,margin,customValues,formatter)=>({color,margin,fontFamily:'DejaVu Sans',fontSize:TICK,lineHeight:14,padding:[10,0,0,0],customValues,formatter:formatter||(v=>String(v)),hideOverlap:false,showMinLabel:true,showMaxLabel:true});
const yBase={type:'value',splitLine:{show:false},axisLine:{show:false,onZero:false},axisTick:{show:false},z:30};
const yAxes=[
 {...yBase,gridIndex:0,min:0,max:9.5,position:'left',axisLabel:lab('#000',4.5,windLabelsEven)},
 {...yBase,gridIndex:1,min:15,max:31,position:'left',axisLabel:lab('#000',6,tempTicks)},
 {...yBase,gridIndex:1,min:0,max:5,position:'right',axisLabel:lab(C.precip,4,precipTicks)},
 {type:'category',gridIndex:2,data:thermalLevels,position:'right',splitLine:{show:false},axisLine:{show:false,onZero:false},z:30,
  axisTick:{show:true,inside:true,length:9,alignWithLabel:true,interval:0,lineStyle:{color:'#222',width:1.2}},axisLabel:{color:'#000',margin:4,interval:0,lineHeight:14,fontFamily:'DejaVu Sans',fontSize:TICK}},
 {...yBase,gridIndex:3,min:1,max:3.5,position:'left',axisTick:{show:true,length:49,lineStyle:{color:'#222',width:1.2},customValues:updraftTicks},axisLabel:lab('#000',54,updraftTicks,v=>v.toFixed(1))},
 {...yBase,gridIndex:3,min:0,max:1100,position:'left',axisTick:{show:true,inside:true,length:15,lineStyle:{color:C.cape,width:1.2},customValues:capeTicks},axisLabel:lab(C.cape,4.5,capeTicks)},
 {...yBase,gridIndex:3,min:-8,max:5,inverse:true,position:'right',axisTick:{show:true,length:50,lineStyle:{color:'#F00',width:1.4},customValues:liftedTicks},axisLabel:lab(C.red,56,liftedTicks,minusFmt)},
 {...yBase,gridIndex:3,min:-20,max:45,position:'right',axisTick:{show:true,inside:true,length:6,lineStyle:{color:C.soar,width:1.2},customValues:soaringTicks},axisLabel:lab(C.soar,4,soaringTicks,minusFmt)},
 {...yBase,gridIndex:4,min:500,max:1000,inverse:true,position:'right',axisLabel:lab('#000',5,pressureTicks)},
 {...yBase,gridIndex:5,min:500,max:1000,inverse:true,position:'right',axisLabel:lab('#000',5,pressureTicks)},
 {...yBase,gridIndex:0,min:0,max:9.5,position:'left',axisLabel:lab('#000',4.5,windLabelsOdd)}
];

// ---------- page furniture ----------
const gfx=[];
const T=(text,x,y,o={})=>gfx.push({type:'text',x,y:o.rot?y:y+2,rotation:o.rot?o.rot*Math.PI/180:0,z:100,silent:true,style:{text,fill:o.color||'#000',font:(o.weight?o.weight+' ':'')+(o.size||TICK)+'px '+(o.family||FONT),align:o.align||'left',verticalAlign:'middle'}});
const Rc=(x,y,w,h,fill,stroke,lw)=>gfx.push({type:'rect',z:100,silent:true,shape:{x,y,width:w,height:h},style:{fill:fill||null,stroke:stroke||null,lineWidth:lw||0}});
const Ln=(x1,x2,y,stroke,lw)=>gfx.push({type:'line',z:100,silent:true,shape:{x1,y1:y,x2,y2:y},style:{stroke,lineWidth:lw}});
panels.forEach(p=>Rc(L,p[0],W,p[1]-p[0],null,'#222',1.5));
Rc(L,605.3,W,53,null,'#222',1.5);
T('46.09\u00B0N, 11.98\u00B0E (467 m asl)',45,75.7,{size:BIG});
T('meteoblue',1872,40,{size:42,color:'#15466E',family:'"Open Sans"',weight:600});
T('\u00AE',2084,27,{size:11,color:'#15466E'});
T('Surface conditions',1124,109.3,{size:BIG,align:'center'});
T('Thu 16.07',1124,137.5,{size:22.4,align:'center'});
T('Wind 80 m',200,166.4,{size:BIG,color:C.wind80,align:'right'});
T('Wind 10 m',200,198,{size:BIG,color:C.wind10,align:'right'});
T('Gust',147,226.8,{size:BIG,color:C.gust,align:'center'});
T('(m/s)',136,266,{size:BIG,align:'center'});
T('0',235.5,330,{align:'right'});
T('Temperature (\u00B0C)',120.5,428,{size:BIG,rot:90,align:'center'});
T('Precipitation (mm/h)',2082,428,{size:BIG,rot:90,align:'center',color:C.precip});
Ln(228.6,272.7,523,'#F00',4);T('2m Temperature',287,523,{size:SMALL});
Ln(493,536,523,C.dew,3);T('2m Dew point temp.',551,523,{size:SMALL});
Rc(1666,516,40,14,'#0B50F5');T('Precipitation',1716,523,{size:SMALL});
Rc(1856,516,40,14,C.teal);T('Showers',1906,523,{size:SMALL});
T('Stability indices',1124,581,{size:BIG,align:'center'});
T('Max. height',230,629,{size:BIG,align:'right'});
T('dry thermals: 2255 m / 7400 ft',1124,617.5,{size:22,align:'center'});
T('soaring: 1725 m / 5660 ft',1124,640.5,{size:22,align:'center'});
T('Thermal index',231,693,{size:BIG,align:'right'});
T('hPa',2085,710,{size:BIG,rot:90,align:'center'});
T('Updraft velocity',48,864,{size:BIG,rot:90,align:'center'});
T('(m/s)',79,861.7,{size:BIG,rot:90,align:'center'});
T('CAPE (J/kg)',115,860,{size:BIG,rot:90,align:'center',color:C.cape});
T('Soaring index',2113,863,{size:BIG,rot:90,align:'center',color:C.soar});
T('Lifted index',2144,863,{size:BIG,rot:90,align:'center',color:C.red});
T('Thermals',120,1006,{size:SMALL});
[['Strong','#C27AD4'],['Moderate','#A08FDC'],['Light','#78BCCB'],['Weak','#C2EEF2']].forEach((c,i)=>{Rc(240+i*132.5,995.3,132.5,19.4,c[1]);T(c[0],240+i*132.5+66,1003.5,{size:SMALL,align:'center'});});
Rc(240,995.3,530,19.4,null,'#222',1.2);
T('Soaring conditions',1264.6,1006,{size:SMALL});
[['poor','#F7CE80'],['moderate','#EFF77B'],['good','#DAF1A7'],['excellent','#68E98A']].forEach((c,i)=>{Rc(1478+i*132.75,996.7,132.75,18.6,c[1]);T(c[0],1478+i*132.75+66,1004,{size:SMALL,align:'center'});});
Rc(1478,996.7,531,18.6,null,'#222',1.2);
T('Lapse rate / Humidity / Clouds',1124,1061,{size:BIG,align:'center'});
T('Pressure (hPa)',2084,1397,{size:BIG,rot:90,align:'center'});
T('Altitude approx.',123,1386,{size:BIG,rot:90,align:'center'});
[['~4200m',1197.7],['13800ft',1220.7],['~3000m',1324],['9800ft',1347.4],['~2000m',1450],['6600ft',1474],['~1500m',1513.6],['4900ft',1537.5],['~1000m',1577],['3300ft',1600.4],['~500m',1640],['1600ft',1663]].forEach(a=>T(a[0],236,a[1]-1,{size:21,align:'right'}));
Rc(240,1746,40,7,'#000');T('Convective cloud base',295.7,1749.6,{size:SMALL});
Rc(563.5,1746,39.5,8,'#fff','#222',1.2);T('Boundary layer height',620,1749.6,{size:SMALL});
T('Rel. Humidity (%): colored lines',940,1749.6,{size:SMALL});
T('Convective clouds',1415.7,1750.6,{size:19.4});
Rc(1602.5,1744,88,13,stars,'#222',1.2);
T('Cloud cover',1796,1750.6,{size:19.4});
Rc(1921,1744,88.5,13,legHatch,'#222',1);
T('Horizontal wind / Vertical wind shear',1124,1812,{size:BIG,align:'center'});
T('Pressure (hPa)',2084,2146.6,{size:BIG,rot:90,align:'center'});
T('Altitude approx.',123,2147,{size:BIG,rot:90,align:'center'});
[['~4200m',1946.8],['13800ft',1970.4],['~3000m',2074],['9800ft',2097.5],['~2000m',2199.6],['6600ft',2223.6],['~1500m',2263.6],['4900ft',2287],['~1000m',2327],['3300ft',2349.7],['~500m',2389.7],['1600ft',2412.8]].forEach(a=>T(a[0],236,a[1]-1,{size:21,align:'right'}));
T('Last update: 2026-07-16 12:48',43.7,2503.5,{size:22,color:'#8A8A8A'});
T('Wind shear (m/s per 100 m)',1355.6,2504.5,{size:SMALL});
[['0.28','#F9EE4A'],['0.56','#F3C238'],['0.83','#EC6A27'],['1.39','#EE3322'],['2.78','#DE35B8']].forEach((c,i)=>{Rc(1655+i*70.9,2492.8,70.9,19.2,c[1]);T(c[0],1655+i*70.9+35.4,2501,{size:SMALL,align:'center'});});

const chart=echarts.init(document.getElementById('c'),null,{renderer:'canvas',width:2160,height:2538});
chart.setOption({animation:false,backgroundColor:'#FAFAFA',
 grid:panels.map(p=>({left:L,width:W,top:p[0],height:p[1]-p[0],show:false,containLabel:false})),
 xAxis:xAxes,yAxis:yAxes,series:series.filter(s=>s.data.length),graphic:{elements:gfx}});
</script></body></html>
